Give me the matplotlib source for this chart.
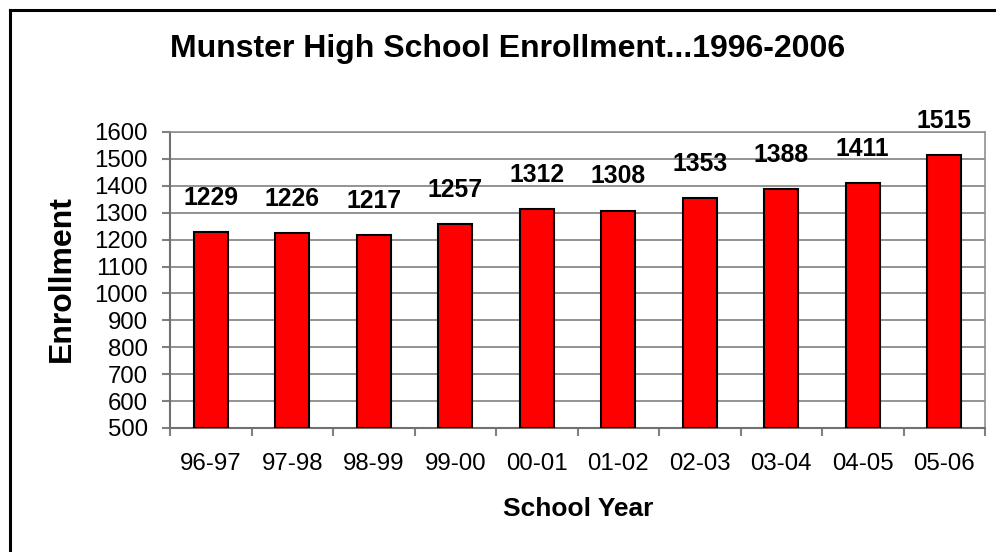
import matplotlib
matplotlib.use("Agg")
import matplotlib.pyplot as plt
from matplotlib.lines import Line2D
import numpy as np

years = ["96-97", "97-98", "98-99", "99-00", "00-01", "01-02", "02-03", "03-04", "04-05", "05-06"]
enrollment = [1229, 1226, 1217, 1257, 1312, 1308, 1353, 1388, 1411, 1515]
yticks = list(range(500, 1700, 100))

plt.rcParams['font.family'] = ['Liberation Sans', 'DejaVu Sans']

W, H = 996, 552
fig = plt.figure(figsize=(W / 100, H / 100), dpi=100)
ax = fig.add_axes([170 / W, 1 - 428 / H, (985 - 170) / W, (428 - 132) / H])

x = np.arange(len(years))
ax.bar(x, [v - 500 for v in enrollment], bottom=500, width=0.42, color='#ff0000',
       edgecolor='black', linewidth=1.5, zorder=3)

for xi, v in zip(x, enrollment):
    ax.annotate(str(v), (xi, v), xytext=(0, 19.5), textcoords='offset points',
                ha='center', va='baseline', fontsize=17.8, fontweight='bold', zorder=4)

ax.set_xlim(-0.5, len(years) - 0.5)
ax.set_ylim(500, 1600)
ax.set_yticks(yticks)
ax.set_yticklabels([str(t) for t in yticks], fontsize=17.3)
ax.set_xticks(x)
ax.set_xticklabels(years, fontsize=17.3)
ax.set_xticks(np.arange(-0.5, len(years), 1.0), minor=True)
ax.tick_params(axis='x', which='major', length=0, pad=18)
ax.tick_params(axis='x', which='minor', length=6, width=1.5, color='#808080', direction='out')
ax.tick_params(axis='y', which='major', length=6, width=1.5, color='#808080', direction='out', pad=10)

ax.yaxis.grid(True, color='#808080', linewidth=1.2, zorder=0)
ax.set_axisbelow(True)
for s in ['left', 'bottom']:
    ax.spines[s].set_color('#707070')
    ax.spines[s].set_linewidth(1.5)
for s in ['right', 'top']:
    ax.spines[s].set_color('#909090')
    ax.spines[s].set_linewidth(1.2)

fig.text(508 / W, 1 - 49 / H, "Munster High School Enrollment...1996-2006",
         ha='center', va='center', fontsize=23, fontweight='bold')
fig.text(62 / W, 1 - 279 / H, "Enrollment", rotation=90, ha='center', va='center',
         fontsize=23, fontweight='bold')
fig.text(578 / W, 1 - 509 / H, "School Year", ha='center', va='center',
         fontsize=19, fontweight='bold')

fig.add_artist(Line2D([9.7 / W, 9.7 / W], [0, 1 - 10 / H], color='black', linewidth=2.2,
                      transform=fig.transFigure))
fig.add_artist(Line2D([9.7 / W, 1], [1 - 10 / H, 1 - 10 / H], color='black', linewidth=2.2,
                      transform=fig.transFigure))

fig.savefig("out.png", dpi=100)
